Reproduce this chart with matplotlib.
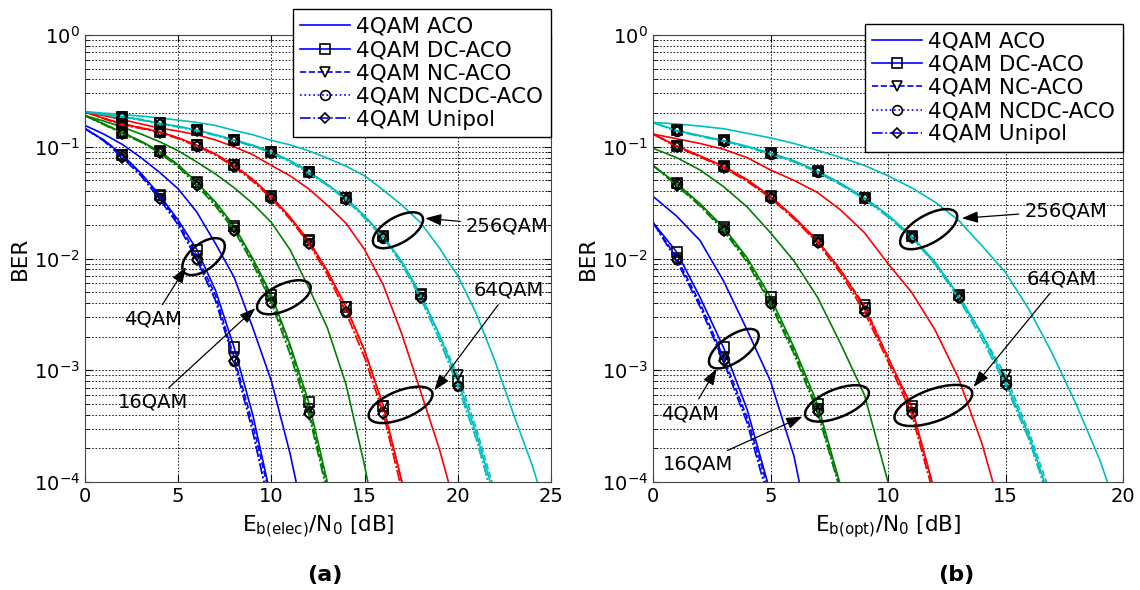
import matplotlib
matplotlib.use('Agg')
import matplotlib.pyplot as plt
from matplotlib.patches import Ellipse
from matplotlib.transforms import ScaledTranslation
from matplotlib.ticker import LogLocator, NullFormatter

plt.rcParams['font.family'] = ['DejaVu Sans']
plt.rcParams['mathtext.default'] = 'regular'

# Eb/N0 grid [dB]
snr_a = list(range(0, 26))
snr_b = list(range(0, 21))

mods = ['4QAM', '16QAM', '64QAM', '256QAM']
colors = ['blue', 'green', 'red', 'c']
schemes = ['ACO', 'DC-ACO', 'NC-ACO', 'NCDC-ACO', 'Unipol']

# ---- panel (a): BER vs Eb(elec)/N0, one list per modulation (4, 16, 64, 256QAM)
a_aco = [
    [0.155, 0.13, 0.105, 0.08, 0.059, 0.042, 0.026, 0.0136, 0.0068, 0.0024, 8e-4, 1.8e-4, 3e-5],
    [0.19, 0.17, 0.15, 0.13, 0.111, 0.092, 0.073, 0.057, 0.043, 0.031, 0.021, 0.012, 0.0055,
     0.0024, 7.5e-4, 1.4e-4, 2e-5],
    [0.205, 0.19, 0.175, 0.16, 0.147, 0.138, 0.128, 0.115, 0.1, 0.085, 0.068, 0.055, 0.042,
     0.03, 0.0207, 0.012, 0.0058, 0.0021, 6.5e-4, 2e-4, 5e-5],
    [0.206, 0.2, 0.194, 0.188, 0.181, 0.173, 0.165, 0.155, 0.14, 0.128, 0.114, 0.104, 0.092,
     0.079, 0.067, 0.055, 0.041, 0.03, 0.021, 0.0125, 7e-3, 3.2e-3, 1.2e-3, 4e-4, 1.4e-4, 4e-5],
]
a_dc = [
    [0.145, 0.115, 0.085, 0.058, 0.037, 0.022, 0.012, 0.0052, 0.0016, 4e-4, 7e-5],
    [0.19, 0.16, 0.134, 0.112, 0.091, 0.069, 0.048, 0.032, 0.0195, 0.010, 0.0047, 0.0017,
     5.2e-4, 1e-4, 1.5e-5],
    [0.205, 0.18, 0.16, 0.148, 0.136, 0.12, 0.103, 0.086, 0.068, 0.051, 0.036, 0.0235, 0.0145,
     0.0078, 0.0037, 0.0015, 4.8e-4, 1e-4, 1.5e-5],
    [0.206, 0.195, 0.186, 0.175, 0.162, 0.152, 0.141, 0.128, 0.115, 0.103, 0.09, 0.075, 0.06,
     0.046, 0.0345, 0.024, 0.0158, 0.0094, 0.0048, 0.0021, 8e-4, 2.7e-4, 7e-5],
]
a_nc = [
    [0.145, 0.115, 0.084, 0.057, 0.036, 0.021, 0.0106, 0.0047, 0.0013, 3.3e-4, 6.5e-5],
    [0.19, 0.16, 0.134, 0.112, 0.09, 0.068, 0.047, 0.031, 0.0188, 0.0097, 0.0044, 0.0016,
     4.5e-4, 9e-5, 1.4e-5],
    [0.205, 0.18, 0.16, 0.148, 0.136, 0.12, 0.103, 0.086, 0.068, 0.051, 0.0357, 0.0232, 0.0142,
     0.0076, 0.0037, 0.0015, 4.8e-4, 1e-4, 1.5e-5],
    [0.206, 0.195, 0.186, 0.175, 0.162, 0.152, 0.141, 0.128, 0.115, 0.103, 0.09, 0.075, 0.0598,
     0.046, 0.0345, 0.024, 0.0157, 0.0093, 0.0047, 0.0021, 9e-4, 3e-4, 8e-5],
]
a_ncdc = [
    [0.145, 0.114, 0.083, 0.056, 0.035, 0.020, 0.0100, 0.0043, 0.0012, 2.9e-4, 5e-5],
    [0.19, 0.16, 0.133, 0.111, 0.089, 0.067, 0.046, 0.030, 0.018, 0.0092, 0.0041, 0.0014,
     4.2e-4, 8e-5, 1.2e-5],
    [0.205, 0.18, 0.158, 0.147, 0.135, 0.119, 0.102, 0.085, 0.067, 0.05, 0.035, 0.0228, 0.0138,
     0.0073, 0.0033, 0.0013, 4.2e-4, 8.5e-5, 1.3e-5],
    [0.206, 0.195, 0.185, 0.174, 0.161, 0.151, 0.14, 0.127, 0.114, 0.102, 0.089, 0.074, 0.059,
     0.0455, 0.034, 0.0235, 0.0154, 0.009, 0.0045, 0.0019, 7.3e-4, 2.4e-4, 6e-5],
]
a_uni = [
    [0.146, 0.113, 0.080, 0.055, 0.034, 0.020, 0.0097, 0.0042, 0.0012, 2.8e-4, 5e-5],
    [0.19, 0.158, 0.131, 0.11, 0.088, 0.066, 0.045, 0.0295, 0.0178, 0.009, 0.004, 0.0014,
     4.1e-4, 8e-5, 1.2e-5],
    [0.205, 0.179, 0.156, 0.146, 0.134, 0.118, 0.101, 0.084, 0.066, 0.049, 0.0345, 0.0225,
     0.0136, 0.0072, 0.0033, 0.0013, 4.1e-4, 8.5e-5, 1.3e-5],
    [0.206, 0.194, 0.184, 0.173, 0.16, 0.15, 0.139, 0.126, 0.113, 0.101, 0.088, 0.073, 0.058,
     0.045, 0.0335, 0.023, 0.0152, 0.0089, 0.0044, 0.0019, 7.2e-4, 2.4e-4, 6e-5],
]

# ---- panel (b): BER vs Eb(opt)/N0
b_aco = [
    [0.036, 0.024, 0.0145, 0.0063, 0.0023, 8e-4, 1.7e-4, 1.6e-5],
    [0.097, 0.08, 0.062, 0.044, 0.029, 0.017, 0.0095, 0.0045, 1.7e-3, 6e-4, 1e-4, 1e-5],
    [0.13, 0.118, 0.107, 0.095, 0.08, 0.062, 0.05, 0.039, 0.027, 0.017, 0.009, 0.005, 0.0023,
     8.5e-4, 2.2e-4, 4e-5],
    [0.165, 0.16, 0.153, 0.145, 0.132, 0.12, 0.107, 0.093, 0.08, 0.068, 0.055, 0.043, 0.032,
     0.022, 0.013, 0.0075, 0.0035, 1.4e-3, 5e-4, 1.6e-4, 4e-5],
]
b_dc = [
    [0.021, 0.0115, 0.0045, 0.0016, 4.5e-4, 8e-5],
    [0.068, 0.047, 0.031, 0.019, 0.0102, 0.0045, 0.0016, 5e-4, 9e-5],
    [0.13, 0.102, 0.083, 0.067, 0.051, 0.036, 0.0235, 0.0145, 0.0078, 0.0036, 0.0013, 4.8e-4, 8e-5],
    [0.165, 0.14, 0.126, 0.114, 0.101, 0.088, 0.075, 0.0605, 0.047, 0.035, 0.0245, 0.016, 0.0093,
     0.0047, 0.0021, 8e-4, 2.6e-4, 6e-5],
]
b_nc = [
    [0.021, 0.0102, 0.0040, 0.0013, 3.8e-4, 7.5e-5],
    [0.068, 0.046, 0.030, 0.0185, 0.0097, 0.0041, 0.0015, 4.5e-4, 8.5e-5],
    [0.13, 0.101, 0.082, 0.066, 0.05, 0.0355, 0.0232, 0.0143, 0.0077, 0.0038, 0.0013, 4.5e-4, 8e-5],
    [0.165, 0.139, 0.125, 0.113, 0.1, 0.087, 0.074, 0.06, 0.046, 0.0347, 0.024, 0.0157, 0.0091,
     0.0046, 0.0021, 9e-4, 2.8e-4, 7e-5],
]
b_ncdc = [
    [0.021, 0.0100, 0.0038, 0.00125, 3.5e-4, 6.5e-5],
    [0.068, 0.046, 0.030, 0.018, 0.0095, 0.0040, 0.0014, 4.4e-4, 8e-5],
    [0.13, 0.101, 0.082, 0.066, 0.05, 0.035, 0.0228, 0.014, 0.0074, 0.0034, 0.0012, 4.2e-4, 7e-5],
    [0.165, 0.139, 0.125, 0.113, 0.1, 0.087, 0.074, 0.0595, 0.046, 0.0345, 0.0238, 0.0156, 0.009,
     0.0045, 0.002, 7.6e-4, 2.4e-4, 5.5e-5],
]
b_uni = [
    [0.021, 0.0096, 0.0037, 0.0012, 3.4e-4, 6e-5],
    [0.068, 0.045, 0.0295, 0.0178, 0.0093, 0.0039, 0.0014, 4.2e-4, 8e-5],
    [0.13, 0.1, 0.081, 0.065, 0.049, 0.0348, 0.0226, 0.0138, 0.0073, 0.0033, 0.0012, 4.1e-4, 7e-5],
    [0.165, 0.138, 0.124, 0.112, 0.099, 0.086, 0.073, 0.059, 0.0455, 0.034, 0.0235, 0.0154, 0.0089,
     0.0044, 0.0019, 7.4e-4, 2.4e-4, 5.5e-5],
]

# annotations: (label, text position, arrow head, ellipse centre, ellipse w/h [px], angle)
notes_a = [
    ('4QAM', (3.66, 2.86e-3), (5.42, 8.4e-3), (6.36, 0.0104), (50, 26), 38),
    ('16QAM', (3.66, 5.2e-4), (9.14, 3.6e-3), (10.67, 4.5e-3), (58, 26), 25),
    ('64QAM', (22.75, 5.2e-3), (18.74, 6.6e-4), (16.93, 4.9e-4), (68, 28), 22),
    ('256QAM', (22.65, 0.0197), (18.25, 0.0229), (16.79, 0.0179), (56, 26), 30),
]
notes_b = [
    ('4QAM', (1.57, 4.1e-4), (2.71, 1.03e-3), (3.44, 1.56e-3), (58, 26), 35),
    ('16QAM', (1.9, 1.45e-4), (6.36, 3.85e-4), (7.83, 5.05e-4), (68, 28), 22),
    ('64QAM', (17.4, 6.6e-3), (13.64, 7.1e-4), (11.93, 4.84e-4), (82, 32), 20),
    ('256QAM', (17.56, 0.0268), (13.14, 0.0229), (11.73, 0.0183), (64, 28), 30),
]

fig = plt.figure(figsize=(11.4, 5.9), dpi=100)
ax_a = fig.add_axes([85 / 1140, 108 / 590, 466 / 1140, 447 / 590])
ax_b = fig.add_axes([653 / 1140, 108 / 590, 470 / 1140, 447 / 590])


def draw_panel(ax, snr, aco, dc, nc, ncdc, uni, first_mark):
    styles = [('-', None), ('-', 's'), ('--', 'v'), (':', 'o'), ('-.', 'D')]
    handles = []
    for m in range(4):
        for k, data in enumerate([aco, dc, nc, ncdc, uni]):
            vals = data[m]
            ls, mk = styles[k]
            line, = ax.plot(snr[:len(vals)], vals, ls=ls, color=colors[m], lw=1.2,
                            marker=mk, ms=7 if mk != 'D' else 5.5, mfc='none', mec='k',
                            mew=1.2, markevery=slice(first_mark, None, 2),
                            label=mods[m] + ' ' + schemes[k])
            if m == 0:
                handles.append(line)
    return handles


def annotate_panel(ax, notes):
    for label, txt, head, centre, size, ang in notes:
        tr = fig.dpi_scale_trans + ScaledTranslation(centre[0], centre[1], ax.transData)
        ax.add_patch(Ellipse((0, 0), size[0] / 100, size[1] / 100, angle=ang, transform=tr,
                             fill=False, ec='k', lw=1.8, zorder=6, clip_on=False))
        ax.annotate(label, xy=head, xytext=txt, ha='center', va='center', fontsize=14,
                    zorder=7, annotation_clip=False,
                    arrowprops=dict(arrowstyle='-|>,head_length=0.7,head_width=0.25',
                                    color='k', lw=0.9, shrinkA=2, shrinkB=0))


def style_axes(ax, xmax, xlabel):
    ax.set_yscale('log')
    ax.set_xlim(0, xmax)
    ax.set_ylim(1e-4, 1)
    ax.set_xticks(range(0, xmax + 1, 5))
    ax.yaxis.set_major_locator(LogLocator(base=10, numticks=10))
    ax.yaxis.set_minor_locator(LogLocator(base=10, subs=range(2, 10), numticks=20))
    ax.yaxis.set_minor_formatter(NullFormatter())
    ax.grid(True, which='major', ls=(0, (2, 2)), color='k', lw=0.6)
    ax.grid(True, which='minor', axis='y', ls=(0, (2, 2)), color='k', lw=0.6)
    ax.tick_params(which='both', direction='in', top=True, right=True, labelsize=14)
    ax.tick_params(which='major', length=5)
    ax.tick_params(which='minor', length=3)
    for sp in ax.spines.values():
        sp.set_color('#444444')
        sp.set_linewidth(0.8)
    ax.set_ylabel('BER', fontsize=15.5, va='center')
    ax.yaxis.set_label_coords(-0.139, 0.5)
    ax.set_xlabel(xlabel, fontsize=15.5, va='center')
    ax.xaxis.set_label_coords(0.5, -0.1)


# (a)
h = draw_panel(ax_a, snr_a, a_aco, a_dc, a_nc, a_ncdc, a_uni, 2)
style_axes(ax_a, 25, 'E$_{b(elec)}$/N$_0$ [dB]')
annotate_panel(ax_a, notes_a)
leg = ax_a.legend(handles=h, loc='upper right', bbox_to_anchor=(1.0, 1.0575), borderaxespad=0,
                  fontsize=15.5, handlelength=2.3, handletextpad=0.3, labelspacing=0.15,
                  borderpad=0.35, fancybox=False, edgecolor='k', framealpha=1)
leg.get_frame().set_linewidth(1.0)
leg.set_zorder(10)

# (b)
h = draw_panel(ax_b, snr_b, b_aco, b_dc, b_nc, b_ncdc, b_uni, 1)
style_axes(ax_b, 20, 'E$_{b(opt)}$/N$_0$ [dB]')
annotate_panel(ax_b, notes_b)
leg = ax_b.legend(handles=h, loc='upper right', bbox_to_anchor=(1.0, 1.0246), borderaxespad=0,
                  fontsize=15.5, handlelength=2.3, handletextpad=0.3, labelspacing=0.15,
                  borderpad=0.35, fancybox=False, edgecolor='k', framealpha=1)
leg.get_frame().set_linewidth(1.0)
leg.set_zorder(10)

fig.text(325 / 1140, 1 - 575 / 590, '(a)', ha='center', va='center', fontsize=16, fontweight='bold')
fig.text(956 / 1140, 1 - 575 / 590, '(b)', ha='center', va='center', fontsize=16, fontweight='bold')

fig.savefig('out.png', dpi=100)
